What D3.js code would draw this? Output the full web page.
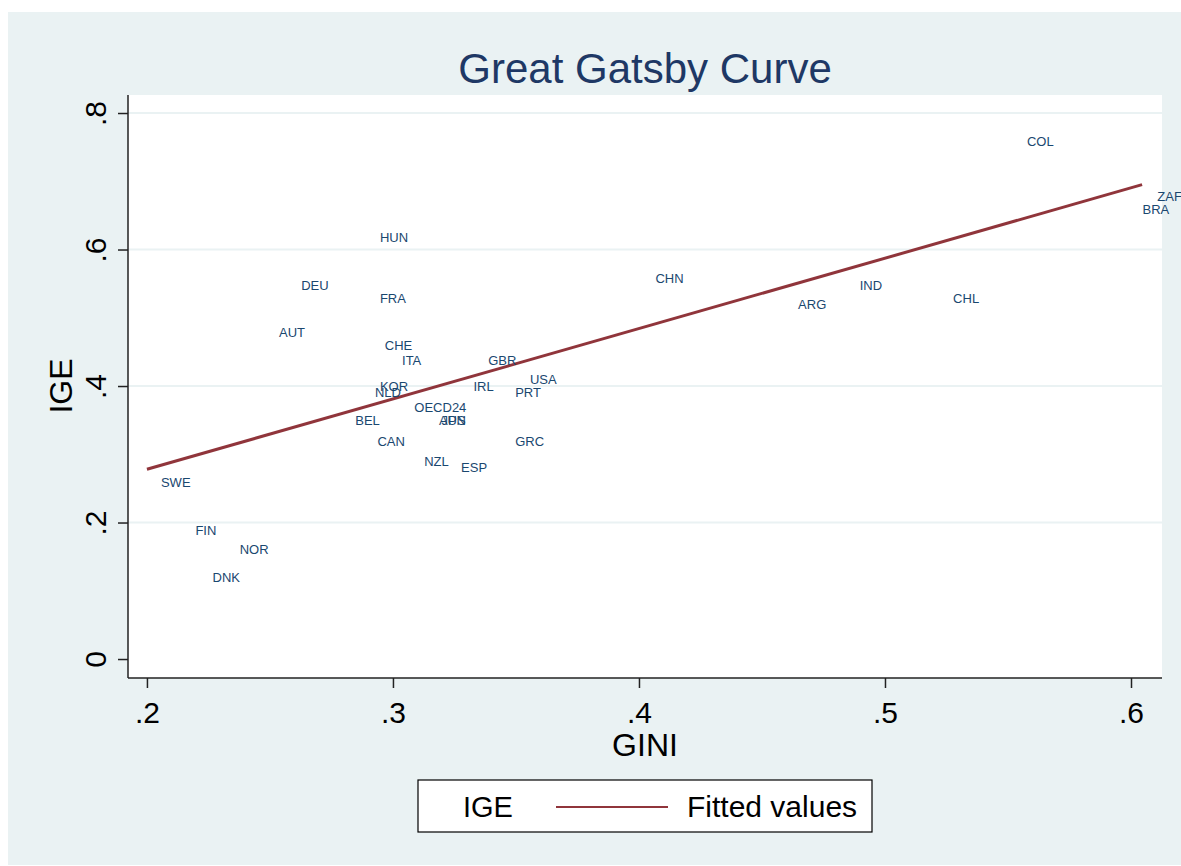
<!DOCTYPE html>
<html lang="en">
<head>
    <meta charset="UTF-8">
    <title>Great Gatsby Curve</title>
    <style>
        body {
            margin: 0;
            background: #fff;
            font-family: "Liberation Sans", Arial, sans-serif;
        }
        .country {
            fill: #1a476f;
            font-size: 13px;
        }
        .tick-label {
            fill: #000;
            font-size: 30px;
        }
    </style>
</head>
<body>
    <svg id="chart" width="1181" height="866"></svg>
    <script src="https://d3js.org/d3.v7.min.js"></script>
    <script>
        // Datos
        const countries = ["COL", "ZAF", "BRA", "CHN", "IND", "CHL", "ARG", "HUN", "DEU", "FRA",
            "AUT", "CHE", "ITA", "GBR", "USA", "IRL", "PRT", "KOR", "NLD", "OECD24",
            "AUS", "JPN", "BEL", "CAN", "GRC", "NZL", "ESP", "SWE", "FIN", "NOR", "DNK"];
        const gini = [0.552, 0.605, 0.599, 0.401, 0.484, 0.522, 0.459, 0.289, 0.257, 0.289,
            0.248, 0.291, 0.298, 0.333, 0.350, 0.327, 0.344, 0.289, 0.287, 0.303,
            0.313, 0.314, 0.279, 0.288, 0.344, 0.307, 0.322, 0.200, 0.214, 0.232, 0.221];
        const ige = [0.759, 0.678, 0.659, 0.558, 0.548, 0.529, 0.519, 0.618, 0.548, 0.529,
            0.479, 0.459, 0.438, 0.438, 0.409, 0.399, 0.390, 0.399, 0.390, 0.369,
            0.349, 0.349, 0.349, 0.319, 0.319, 0.289, 0.280, 0.259, 0.189, 0.160, 0.120];
        // Recta ajustada (extremos)
        const fitX = [0.200, 0.6045];
        const fitY = [0.278, 0.695];
        const xTicks = [0.2, 0.3, 0.4, 0.5, 0.6];
        const yTicks = [0, 0.2, 0.4, 0.6, 0.8];

        const width = 1181;
        const height = 866;
        const plot = { left: 128, right: 1162, top: 95, bottom: 678 };
        const bg = "#eaf2f3";

        const svg = d3.select("#chart");

        // Fondo
        svg.append("rect")
            .attr("x", 8).attr("y", 12)
            .attr("width", width - 8).attr("height", height - 13)
            .attr("fill", bg);
        svg.append("rect")
            .attr("x", plot.left).attr("y", plot.top)
            .attr("width", plot.right - plot.left).attr("height", plot.bottom - plot.top)
            .attr("fill", "#fff");

        const xScale = d3.scaleLinear()
            .domain([0.1923, 0.6126])
            .range([plot.left, plot.right]);
        const yScale = d3.scaleLinear()
            .domain([-0.0278, 0.8264])
            .range([plot.bottom, plot.top]);

        const fmt = d => d === 0 ? "0" : d3.format(".1f")(d).replace(/^0/, "");

        // Lineas de cuadricula
        svg.append("g")
            .selectAll("line")
            .data(yTicks.filter(d => d > 0))
            .enter()
            .append("line")
            .attr("x1", plot.left).attr("x2", plot.right)
            .attr("y1", d => yScale(d)).attr("y2", d => yScale(d))
            .attr("stroke", bg)
            .attr("stroke-width", 2);

        // Ejes
        const xAxis = d3.axisBottom(xScale).tickValues(xTicks).tickFormat(fmt)
            .tickSize(10).tickSizeOuter(0).tickPadding(6);
        const yAxis = d3.axisLeft(yScale).tickValues(yTicks).tickFormat(fmt)
            .tickSize(10).tickSizeOuter(0).tickPadding(6);

        const gx = svg.append("g")
            .attr("transform", `translate(0, ${plot.bottom})`)
            .call(xAxis);
        gx.select(".domain").attr("stroke", "#222").attr("stroke-width", 1.5)
            .attr("d", `M${plot.left},0H${plot.right}`);
        gx.selectAll(".tick line").attr("stroke", "#222").attr("stroke-width", 1.5);
        gx.selectAll(".tick text")
            .attr("class", "tick-label")
            .attr("font-family", null).attr("font-size", null)
            .attr("y", 45).attr("dy", null);

        const gy = svg.append("g")
            .attr("transform", `translate(${plot.left}, 0)`)
            .call(yAxis);
        gy.select(".domain").attr("stroke", "#222").attr("stroke-width", 1.5)
            .attr("d", `M0,${plot.top}V${plot.bottom}`);
        gy.selectAll(".tick line").attr("stroke", "#222").attr("stroke-width", 1.5);
        gy.selectAll(".tick text")
            .attr("class", "tick-label")
            .attr("font-family", null).attr("font-size", null)
            .attr("x", null).attr("dy", null)
            .attr("text-anchor", "middle")
            .attr("transform", "translate(-22, 0) rotate(-90)");

        // Titulos
        svg.append("text")
            .attr("x", 645).attr("y", 83)
            .attr("text-anchor", "middle")
            .attr("fill", "#1e3865")
            .attr("font-size", 42)
            .text("Great Gatsby Curve");
        svg.append("text")
            .attr("x", 645).attr("y", 756)
            .attr("text-anchor", "middle")
            .attr("fill", "#000")
            .attr("font-size", 32)
            .text("GINI");
        svg.append("text")
            .attr("transform", "translate(72, 386) rotate(-90)")
            .attr("text-anchor", "middle")
            .attr("fill", "#000")
            .attr("font-size", 32)
            .text("IGE");

        // Recta ajustada
        const fit = fitX.map((x, i) => [x, fitY[i]]);
        svg.append("path")
            .datum(fit)
            .attr("d", d3.line().x(d => xScale(d[0])).y(d => yScale(d[1])))
            .attr("fill", "none")
            .attr("stroke", "#90353b")
            .attr("stroke-width", 3);

        // Etiquetas de paises
        svg.append("g")
            .selectAll("text")
            .data(countries)
            .enter()
            .append("text")
            .attr("class", "country")
            .attr("x", (d, i) => xScale(gini[i]) + 14)
            .attr("y", (d, i) => yScale(ige[i]))
            .attr("dy", "0.35em")
            .text(d => d);

        // Leyenda
        const legend = svg.append("g").attr("transform", "translate(418, 780)");
        legend.append("rect")
            .attr("x", 0).attr("y", 0)
            .attr("width", 454).attr("height", 52)
            .attr("fill", "#fff")
            .attr("stroke", "#000")
            .attr("stroke-width", 1.2);
        legend.append("text")
            .attr("x", 45).attr("y", 37)
            .attr("font-size", 29)
            .text("IGE");
        legend.append("line")
            .attr("x1", 138).attr("x2", 250)
            .attr("y1", 27).attr("y2", 27)
            .attr("stroke", "#90353b")
            .attr("stroke-width", 2);
        legend.append("text")
            .attr("x", 269).attr("y", 37)
            .attr("font-size", 30)
            .text("Fitted values");
    </script>
</body>
</html>
